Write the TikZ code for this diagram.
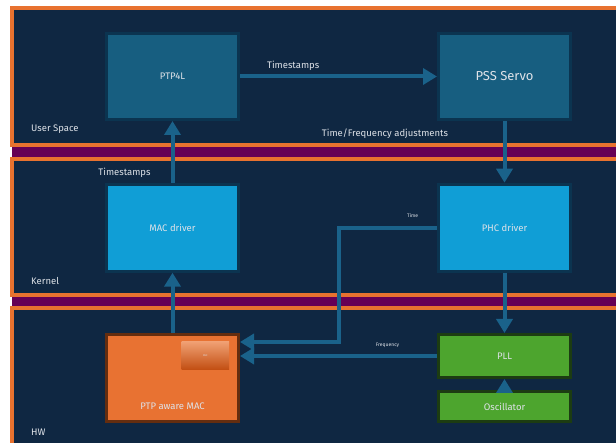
\documentclass[tikz,border=0pt]{standalone}
\usepackage{fontspec}
\setmainfont{Fira Sans}
\usetikzlibrary{arrows.meta}

\definecolor{navy}{RGB}{15,39,66}
\definecolor{layerorange}{RGB}{232,114,47}
\definecolor{band}{RGB}{102,0,85}
\definecolor{userblue}{RGB}{23,94,128}
\definecolor{kernblue}{RGB}{16,158,214}
\definecolor{boxedge}{RGB}{11,52,80}
\definecolor{macorange}{RGB}{232,114,50}
\definecolor{macedge}{RGB}{100,45,15}
\definecolor{pllgreen}{RGB}{77,165,46}
\definecolor{plledge}{RGB}{28,60,18}
\definecolor{linkblue}{RGB}{26,98,138}
\definecolor{txt}{RGB}{222,226,232}

\tikzset{
  layer/.style={fill=navy,draw=layerorange,line width=4pt},
  sep/.style={fill=band},
  blk/.style={rectangle,draw=boxedge,line width=3pt,text=txt,font=\fontsize{9.5}{11}\selectfont,minimum width=132pt},
  link/.style={-{Triangle[length=14pt,width=16pt]},draw=linkblue,line width=4pt},
  lbl/.style={text=txt,font=\fontsize{9.5}{11}\selectfont,inner sep=0pt},
  tinylbl/.style={text=txt,font=\fontsize{5}{6}\selectfont,inner sep=0pt},
}

\begin{document}
\begin{tikzpicture}[x=1pt,y=-1pt]
    \useasboundingbox (0,0) rectangle (616,443);
    \clip (0,0) rectangle (616,443);
    \fill[white] (0,0) rectangle (616,443);

    % layers
    \draw[layer] (12,8) rectangle (650,145.3);
    \fill[sep] (12,147.3) rectangle (650,157);
    \draw[layer] (12,159) rectangle (650,295.5);
    \fill[sep] (12,297.5) rectangle (650,306.5);
    \draw[layer] (12,308.5) rectangle (650,470);

    \node[lbl,anchor=west] (userlbl) at (31,129.5) {User Space};
    \node[lbl,anchor=west] (kernlbl) at (31,281) {Kernel};
    \node[lbl,anchor=west] (hwlbl) at (31,432) {HW};

    % blocks
    \node[blk,fill=userblue,minimum height=86pt] (ptp) at (172.5,76.5) {PTP4L};
    \node[blk,fill=userblue,minimum height=86pt,font=\fontsize{13}{15}\selectfont] (servo) at (504.5,76.5) {PSS Servo};
    \node[blk,fill=kernblue,minimum height=87pt] (macdrv) at (172.5,227.7) {MAC driver};
    \node[blk,fill=kernblue,minimum height=87pt] (phcdrv) at (504.5,227.7) {PHC driver};
    \node[blk,fill=macorange,draw=macedge,minimum height=87pt] (ptpmac) at (172.5,378) {};
    \node[lbl] (maclbl) at ([yshift=16.5pt]ptpmac.south) {PTP aware MAC};
    \node[rectangle,inner sep=0pt,top color={rgb,255:red,240;green,160;blue,115},bottom color={rgb,255:red,195;green,80;blue,20},minimum width=47.5pt,minimum height=27.3pt,text=txt,font=\fontsize{2.5}{3}\selectfont] (phcblk) at (205.3,355.4) {PHC};
    \node[blk,fill=pllgreen,draw=plledge,minimum height=43pt] (pll) at (504.5,356) {PLL};
    \node[blk,fill=pllgreen,draw=plledge,minimum height=30pt] (osc) at (504.5,406.5) {Oscillator};

    \coordinate (tdrop) at (339,342);

    % connectors
    \draw[link] (ptp) -- (servo) node[lbl,pos=0.27,above=4pt] {Timestamps};
    \draw[link] (servo) -- (phcdrv);
    \node[lbl] (adjlbl) at (385,134) {Time/Frequency adjustments};
    \draw[link] (macdrv) -- (ptp);
    \node[lbl] (tslbl) at (124.5,173) {Timestamps};
    \draw[link] (ptpmac) -- (macdrv);
    \draw[link] (phcdrv) -- (pll);
    \draw[link] (osc) -- (pll);
    \draw[link] (phcdrv.west) -| (tdrop) -- (ptpmac.east |- tdrop);
    \node[tinylbl] (timelbl) at (412.7,215.7) {Time};
    \draw[link] (pll) -- (ptpmac.east |- pll);
    \node[tinylbl] (freqlbl) at (387.5,345) {Frequency};
\end{tikzpicture}
\end{document}
